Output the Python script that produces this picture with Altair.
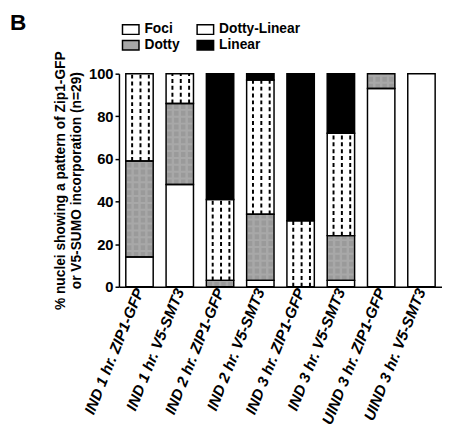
import altair as alt
import pandas as pd

categories = ["IND 1 hr. ZIP1-GFP", "IND 1 hr. V5-SMT3", "IND 2 hr. ZIP1-GFP", "IND 2 hr. V5-SMT3",
              "IND 3 hr. ZIP1-GFP", "IND 3 hr. V5-SMT3", "UIND 3 hr. ZIP1-GFP", "UIND 3 hr. V5-SMT3"]
foci = [14, 48, 0, 3, 0, 3, 93, 100]
dotty = [45, 38, 3, 31, 0, 21, 7, 0]
dotty_linear = [41, 14, 38, 63, 31, 48, 0, 0]
linear = [0, 0, 59, 3, 69, 28, 0, 0]

series_names = ["Foci", "Dotty", "Dotty-Linear", "Linear"]
series_values = [foci, dotty, dotty_linear, linear]
series_colors = ["white", "#a8a8a8", "white", "black"]

rows = []
for i, cat in enumerate(categories):
    base = 0
    for name, vals in zip(series_names, series_values):
        v = vals[i]
        if v > 0:
            rows.append({"cat": cat, "series": name, "y0": base, "y1": base + v})
        base += v
df = pd.DataFrame(rows)

FONT = "Liberation Sans"

xenc = alt.X("cat:N", sort=categories, title=None,
             scale=alt.Scale(paddingInner=0.32, paddingOuter=0.17),
             axis=alt.Axis(labelAngle=-68, labelFontWeight="bold", labelFontStyle="italic",
                           labelFontSize=15.5, labelFont=FONT, labelColor="black",
                           domainColor="black", domainWidth=1.5, ticks=False, labelPadding=2))
yenc = alt.Y("y0:Q", scale=alt.Scale(domain=[0, 100]),
             title=["% nuclei showing a pattern of Zip1-GFP", "or V5-SUMO incorporation (n=29)"],
             axis=alt.Axis(values=[0, 20, 40, 60, 80, 100], grid=False, labelFontWeight="bold",
                           labelFontSize=15, labelFont=FONT, labelColor="black",
                           domainColor="black", domainWidth=1.5, tickColor="black", tickWidth=1.5,
                           tickSize=4, labelPadding=2, titleFont=FONT, titleFontSize=14,
                           titleFontWeight="bold", titleColor="black", titlePadding=5,
                           titleLineHeight=16))

base = alt.Chart(df)

fills = base.mark_bar(strokeWidth=0).encode(
    x=xenc, y=yenc, y2="y1:Q",
    color=alt.Color("series:N", scale=alt.Scale(domain=series_names, range=series_colors),
                    legend=alt.Legend(title=None, orient="none", legendX=4, legendY=-53,
                                      columns=2, columnPadding=14, rowPadding=0,
                                      symbolType="M-1.2,-0.7H1.2V0.7H-1.2Z", symbolSize=196,
                                      symbolStrokeColor="black", symbolStrokeWidth=1.5,
                                      labelFont=FONT, labelFontSize=14, labelFontWeight="bold",
                                      labelColor="black", symbolOpacity=1, labelOffset=6)),
)

dl = base.transform_filter(alt.datum.series == "Dotty-Linear")
dl_layers = [
    dl.mark_rule(color="black", strokeWidth=2, strokeDash=[4, 3], xOffset=off).encode(
        x=alt.X("cat:N", sort=categories), y="y0:Q", y2="y1:Q")
    for off in [-7.5, 1, 9.5]
]

dt = base.transform_filter(alt.datum.series == "Dotty")
dt_layers = [
    dt.mark_rule(color="#9a9a9a", strokeWidth=4.5, strokeDash=[5, 2], xOffset=off).encode(
        x=alt.X("cat:N", sort=categories), y="y0:Q", y2="y1:Q")
    for off in [-10.5, -3.5, 3.5, 10.5]
]

outlines = base.mark_bar(fill=None, stroke="black", strokeWidth=1.5).encode(
    x=alt.X("cat:N", sort=categories), y="y0:Q", y2="y1:Q")

panel_label = alt.Chart(pd.DataFrame({"t": ["B"]})).mark_text(
    text="B", font=FONT, fontSize=23, fontWeight="bold", color="black",
    align="left", baseline="alphabetic").encode(x=alt.value(-111), y=alt.value(-45))

chart = alt.layer(fills, *dt_layers, *dl_layers, outlines, panel_label).properties(
    width=442, height=423,
    autosize=alt.AutoSizeParams(type="fit", contains="padding"),
    padding={"left": 2, "top": 0, "right": 0, "bottom": 0},
).configure_view(stroke=None)

chart.save("out.html", embed_options={"renderer": "svg", "actions": False})
